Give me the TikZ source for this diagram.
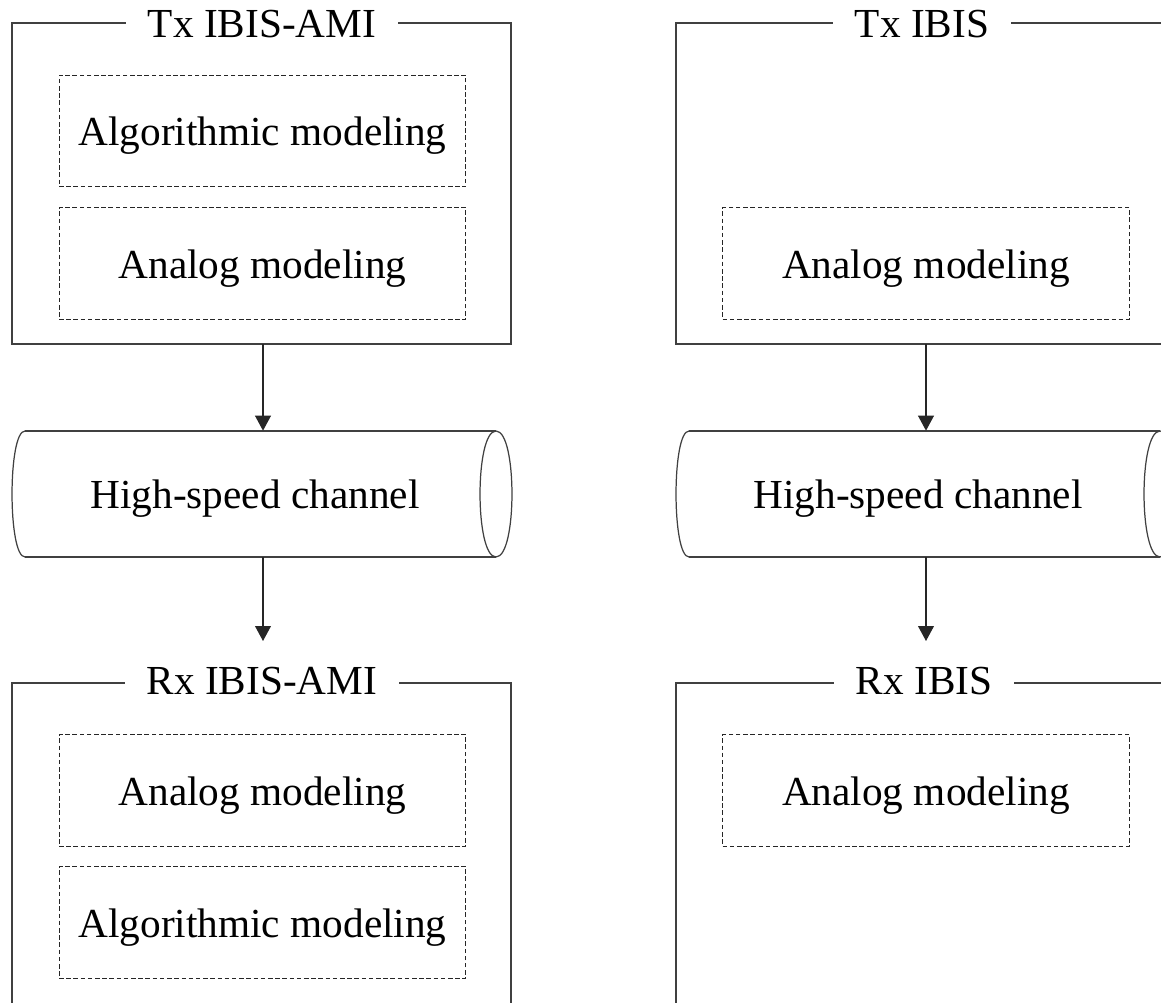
\documentclass[tikz,border=0pt]{standalone}
\usepackage{fontspec}
\setmainfont{Liberation Serif}
\usetikzlibrary{arrows.meta}
\begin{document}
\begin{tikzpicture}[x=0.02cm,y=0.02cm,
  every node/.style={font=\fontsize{23.5pt}{28pt}\selectfont, text height=18pt, text depth=1pt},
  outerbox/.style={draw=black!75, line width=0.8pt},
  titlelbl/.style={fill=white, inner xsep=12.5pt, inner ysep=0pt},
  modelbox/.style={draw=black!85, line width=0.55pt, dash pattern=on 2.6pt off 1.5pt,
                   minimum width=231.6pt, minimum height=63.6pt, inner sep=0pt},
  cylbody/.style={minimum width=268pt, minimum height=71.7pt, inner sep=0pt},
  cylline/.style={draw=black!75, line width=0.7pt},
  arr/.style={draw=black!85, line width=0.7pt, -{Triangle[length=8.5pt,width=9pt]}}
]
\useasboundingbox (0,0) rectangle (1161,1002);
\clip (0,0) rectangle (1161,1002);

% ---------------- left column ----------------
\draw[outerbox] (12,658) rectangle (511,979);
\node[titlelbl] (txL) at (262,979) {Tx IBIS-AMI};
\node[modelbox] (algTxL) at (262.5,871) {Algorithmic modeling};
\node[modelbox] (anaTxL) at (262.5,738.5) {Analog modeling};
\coordinate (txLs) at (263,658);

\node[cylbody] (cylL) at (263,508) {};
\node (cylLtxt) at (255,508) {High-speed channel};
\draw[cylline] (25,571) -- (496,571) (25,445) -- (496,445);
\draw[cylline] (25,571) .. controls (7.7,571) and (7.7,445) .. (25,445);
\draw[cylline] (496,571) .. controls (474.7,571) and (474.7,445) .. (496,445)
               .. controls (517.3,445) and (517.3,571) .. (496,571);

\draw[outerbox] (12,-20) rectangle (511,319);
\node[titlelbl] (rxL) at (262,322) {Rx IBIS-AMI};
\node[modelbox] (anaRxL) at (262.5,211.5) {Analog modeling};
\node[modelbox] (algRxL) at (262.5,79.5) {Algorithmic modeling};
\coordinate (rxLin) at (263,361);

\draw[arr] (txLs) -- (cylL.north);
\draw[arr] (cylL.south) -- (rxLin);

% ---------------- right column ----------------
\draw[outerbox] (676,658) rectangle (1175,979);
\node[titlelbl] (txR) at (922,979) {Tx IBIS};
\node[modelbox] (anaTxR) at (926,738.5) {Analog modeling};
\coordinate (txRs) at (926,658);

\node[cylbody] (cylR) at (926,508) {};
\node (cylRtxt) at (918,508) {High-speed channel};
\draw[cylline] (689,571) -- (1160,571) (689,445) -- (1160,445);
\draw[cylline] (689,571) .. controls (671.7,571) and (671.7,445) .. (689,445);
\draw[cylline] (1160,571) .. controls (1138.7,571) and (1138.7,445) .. (1160,445)
               .. controls (1181.3,445) and (1181.3,571) .. (1160,571);

\draw[outerbox] (676,-20) rectangle (1175,319);
\node[titlelbl] (rxR) at (924,322) {Rx IBIS};
\node[modelbox] (anaRxR) at (926,211.5) {Analog modeling};
\coordinate (rxRin) at (926,361);

\draw[arr] (txRs) -- (cylR.north);
\draw[arr] (cylR.south) -- (rxRin);
\end{tikzpicture}
\end{document}
